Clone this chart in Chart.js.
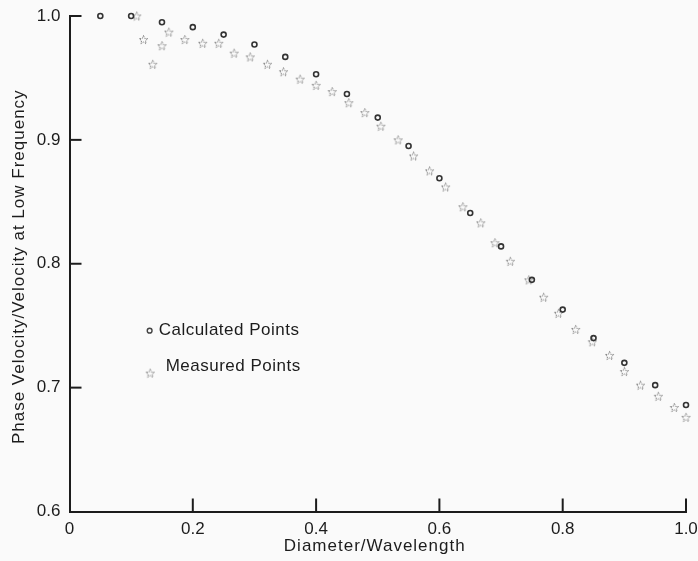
<!DOCTYPE html>
<html>
<head>
<meta charset="utf-8">
<script src="https://cdn.jsdelivr.net/npm/chart.js@4/dist/chart.umd.min.js"></script>
<style>
  html, body { margin: 0; padding: 0; background: #fafafa; }
  #chart { display: block; }
</style>
</head>
<body>
<canvas id="chart" width="698" height="561"></canvas>
<script>
// Calculated points (open circles)
const calcX = [0.05, 0.10, 0.15, 0.20, 0.25, 0.30, 0.35, 0.40, 0.45, 0.50,
               0.55, 0.60, 0.65, 0.70, 0.75, 0.80, 0.85, 0.90, 0.95, 1.00];
const calcY = [1.000, 1.000, 0.995, 0.991, 0.985, 0.977, 0.967, 0.953, 0.937, 0.918,
               0.895, 0.869, 0.841, 0.814, 0.787, 0.763, 0.740, 0.720, 0.702, 0.686];

// Measured points (stars)
const measX = [0.109, 0.120, 0.135, 0.150, 0.161, 0.187, 0.216, 0.242, 0.267, 0.293,
               0.321, 0.347, 0.374, 0.400, 0.426, 0.453, 0.479, 0.505, 0.533, 0.558,
               0.584, 0.610, 0.638, 0.667, 0.690, 0.715, 0.745, 0.769, 0.793, 0.821,
               0.848, 0.876, 0.900, 0.926, 0.955, 0.981, 1.000];
const measY = [1.000, 0.981, 0.961, 0.976, 0.987, 0.981, 0.978, 0.978, 0.970, 0.967,
               0.961, 0.955, 0.949, 0.944, 0.939, 0.930, 0.922, 0.911, 0.900, 0.887,
               0.875, 0.862, 0.846, 0.833, 0.817, 0.802, 0.787, 0.773, 0.760, 0.747,
               0.737, 0.726, 0.713, 0.702, 0.693, 0.684, 0.676];

const xTicks = [0, 0.2, 0.4, 0.6, 0.8, 1.0];
const yTicks = [0.6, 0.7, 0.8, 0.9, 1.0];

const seriesNames = ['Calculated Points', 'Measured Points'];
const xTitle = 'Diameter/Wavelength';
const yTitle = 'Phase Velocity/Velocity at Low Frequency';

const FONT = '"Liberation Sans", Arial, sans-serif';
const INK = '#1c1c1c';

// little outlined star used as point style
function makeStar(size, color) {
    const c = document.createElement('canvas');
    c.width = size; c.height = size;
    const g = c.getContext('2d');
    const cx = size / 2, cy = size / 2 + 0.5;
    const rOut = size / 2 - 1, rIn = rOut * 0.45;
    g.beginPath();
    for (let i = 0; i < 10; i++) {
        const r = i % 2 === 0 ? rOut : rIn;
        const a = -Math.PI / 2 + i * Math.PI / 5;
        const px = cx + r * Math.cos(a), py = cy + r * Math.sin(a);
        if (i === 0) g.moveTo(px, py); else g.lineTo(px, py);
    }
    g.closePath();
    g.strokeStyle = color;
    g.lineWidth = 1;
    g.setLineDash([1.5, 1]);
    g.stroke();
    return c;
}
const starImg = makeStar(11, '#7a7a7a');

const toPoints = (xs, ys) => xs.map((x, i) => ({ x: x, y: ys[i] }));

// tick marks pointing into the plot, axis titles and the in-plot legend
const extras = {
    id: 'extras',
    afterDraw(chart) {
        const ctx = chart.ctx;
        const xs = chart.scales.x, ys = chart.scales.y;
        const area = chart.chartArea;
        ctx.save();
        ctx.strokeStyle = INK;
        ctx.lineWidth = 2;
        yTicks.slice(1).forEach(v => {
            const py = ys.getPixelForValue(v);
            ctx.beginPath();
            ctx.moveTo(area.left, py);
            ctx.lineTo(area.left + 12, py);
            ctx.stroke();
        });
        xTicks.slice(1).forEach(v => {
            const px = xs.getPixelForValue(v);
            ctx.beginPath();
            ctx.moveTo(px, area.bottom);
            ctx.lineTo(px, area.bottom - 13);
            ctx.stroke();
        });

        ctx.fillStyle = INK;
        ctx.font = '17px ' + FONT;
        ctx.textBaseline = 'middle';
        ctx.textAlign = 'center';

        // axis titles (slightly spaced out like the original)
        ctx.letterSpacing = '1px';
        ctx.fillText(xTitle, (area.left + area.right) / 2 - 3, 546);
        ctx.save();
        ctx.translate(19, (area.top + area.bottom) / 2 + 3);
        ctx.rotate(-Math.PI / 2);
        ctx.fillText(yTitle, 0, 0);
        ctx.restore();

        // legend
        const lx = xs.getPixelForValue(0.130);
        const ly1 = ys.getPixelForValue(0.746);
        const ly2 = ys.getPixelForValue(0.717);
        ctx.lineWidth = 1.4;
        ctx.strokeStyle = '#444';
        ctx.beginPath();
        ctx.arc(lx, ly1, 2.4, 0, Math.PI * 2);
        ctx.stroke();
        ctx.drawImage(starImg, lx - 5, ly2 + 1);
        ctx.textAlign = 'left';
        ctx.letterSpacing = '0.5px';
        ctx.fillText(seriesNames[0], lx + 9, ly1);
        ctx.fillText(seriesNames[1], lx + 16, ly2);
        ctx.restore();
    }
};

new Chart(document.getElementById('chart'), {
    type: 'scatter',
    data: {
        datasets: [{
            label: seriesNames[0],
            data: toPoints(calcX, calcY),
            pointStyle: 'circle',
            pointRadius: 2.5,
            borderWidth: 1.6,
            borderColor: '#333',
            backgroundColor: 'rgba(0,0,0,0)',
            clip: false
        }, {
            label: seriesNames[1],
            data: toPoints(measX, measY),
            pointStyle: starImg,
            clip: false
        }]
    },
    options: {
        responsive: false,
        animation: false,
        layout: { padding: { left: 0, top: 16, right: 12, bottom: 0 } },
        plugins: {
            legend: { display: false },
            tooltip: { enabled: false }
        },
        scales: {
            x: {
                type: 'linear',
                min: 0,
                max: 1,
                afterBuildTicks: s => { s.ticks = xTicks.map(v => ({ value: v })); },
                afterFit: s => { s.height = 49.5; s.paddingLeft = 0; s.paddingRight = 0; },
                grid: { display: false, drawTicks: false },
                border: { display: true, color: INK, width: 2 },
                ticks: {
                    padding: 8,
                    color: INK,
                    font: { family: FONT, size: 17 },
                    callback: v => v === 0 ? '0' : v.toFixed(1)
                }
            },
            y: {
                type: 'linear',
                min: 0.6,
                max: 1.0,
                afterBuildTicks: s => { s.ticks = yTicks.map(v => ({ value: v })); },
                afterFit: s => { s.width = 69.5; s.paddingTop = 0; s.paddingBottom = 0; },
                grid: { display: false, drawTicks: false },
                border: { display: true, color: INK, width: 2 },
                ticks: {
                    padding: 9,
                    color: INK,
                    font: { family: FONT, size: 17 },
                    callback: v => v.toFixed(1)
                }
            }
        }
    },
    plugins: [extras]
});
</script>
</body>
</html>
